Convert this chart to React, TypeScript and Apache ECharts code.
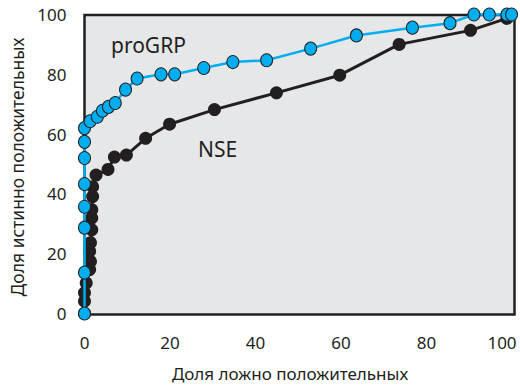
import React, { useEffect, useRef } from "react";
import * as echarts from "echarts";

// ROC curves: false-positive share (x) vs true-positive share (y), in %
const proGRPx = [0, 0, 0, 0, 0, 0, 0, 0, 1.3, 3.0, 4.2, 5.6, 7.2, 9.6, 12.3, 17.9, 21.1, 27.9, 34.7, 42.6, 52.9, 63.6, 76.7, 85.5, 91.1, 94.7, 98.8, 99.9];
const proGRPy = [0, 13.7, 28.7, 35.7, 43.3, 52, 57.4, 62, 64.3, 65.8, 67.8, 69.1, 70.4, 74.9, 78.6, 80, 80, 82.1, 84.1, 84.7, 88.6, 93, 95.6, 97.1, 100, 100, 100, 100];

const nseX = [0, 0, 0, 0.4, 1.2, 1.4, 1.2, 1.4, 1.7, 1.7, 1.7, 1.9, 1.9, 2.7, 5.5, 7.0, 9.8, 14.3, 19.9, 30.4, 44.9, 59.7, 73.6, 90.3, 98.8];
const nseY = [0, 4.1, 6.9, 10.2, 14.7, 17.4, 20.8, 23.7, 28, 31.9, 34.7, 39.1, 42.4, 46.3, 48.2, 52.3, 53, 58.6, 63.3, 68.2, 73.8, 79.7, 90, 94.7, 98.7];

const xTitle = "Доля ложно положительных";
const yTitle = "Доля истинно положительных";

const DARK = "#231f20";
const BLUE = "#00aeef";
const FONT = "Noto Sans";

export default function App() {
  const ref = useRef<HTMLDivElement>(null);

  useEffect(() => {
    if (!ref.current) return;
    const chart = echarts.init(ref.current, undefined, { renderer: "svg" });
    const pairs = (xs: number[], ys: number[]) => xs.map((x, i) => [x, ys[i]]);

    chart.setOption({
      animation: false,
      grid: { left: 84.5, right: 8, top: 14.5, bottom: 71.5 },
      xAxis: {
        type: "value",
        min: 0,
        max: 100,
        interval: 20,
        axisLine: { show: false },
        axisTick: { show: false },
        splitLine: { show: false },
        axisLabel: {
          fontFamily: FONT,
          fontSize: 17,
          color: DARK,
          margin: 20,
          formatter: (v: number) => (v === 100 ? "{last|100}" : String(v)),
          rich: {
            last: { fontFamily: FONT, fontSize: 17, color: DARK, padding: [0, 20, 0, 0] },
          },
        },
      },
      yAxis: {
        type: "value",
        min: 0,
        max: 100,
        interval: 20,
        axisLine: { show: false },
        axisTick: { show: false },
        splitLine: { show: false },
        axisLabel: { fontFamily: FONT, fontSize: 17, color: DARK, margin: 18 },
      },
      graphic: [
        {
          type: "rect",
          z: -10,
          shape: { x: 84.5, y: 15, width: 430, height: 299.5 },
          style: { fill: "#e6e7e8", stroke: DARK, lineWidth: 2.5 },
        },
        {
          type: "text",
          x: 111,
          y: 34,
          style: { text: "proGRP", fontFamily: FONT, fontSize: 21, fill: DARK },
        },
        {
          type: "text",
          x: 198,
          y: 138,
          style: { text: "NSE", fontFamily: FONT, fontSize: 21, fill: DARK },
        },
        {
          type: "text",
          x: 290,
          y: 373,
          style: {
            text: xTitle,
            fontFamily: FONT,
            fontSize: 17,
            fill: DARK,
            align: "center",
            verticalAlign: "middle",
          },
        },
        {
          type: "text",
          x: 17,
          y: 167,
          rotation: Math.PI / 2,
          style: {
            text: yTitle,
            fontFamily: FONT,
            fontSize: 17.5,
            fill: DARK,
            align: "center",
            verticalAlign: "middle",
          },
        },
      ],
      series: [
        {
          name: "NSE",
          type: "line",
          data: pairs(nseX, nseY),
          clip: false,
          z: 3,
          symbol: "circle",
          symbolSize: 13,
          lineStyle: { color: DARK, width: 3 },
          itemStyle: { color: DARK },
        },
        {
          name: "proGRP",
          type: "line",
          data: pairs(proGRPx, proGRPy),
          clip: false,
          z: 4,
          symbol: "circle",
          symbolSize: [12, 13],
          lineStyle: { color: BLUE, width: 2.5 },
          itemStyle: { color: BLUE, borderColor: DARK, borderWidth: 1 },
        },
      ],
    });

    return () => chart.dispose();
  }, []);

  return (
    <div
      ref={ref}
      style={{ position: "absolute", left: 0, top: 0, width: 520, height: 385 }}
    />
  );
}
